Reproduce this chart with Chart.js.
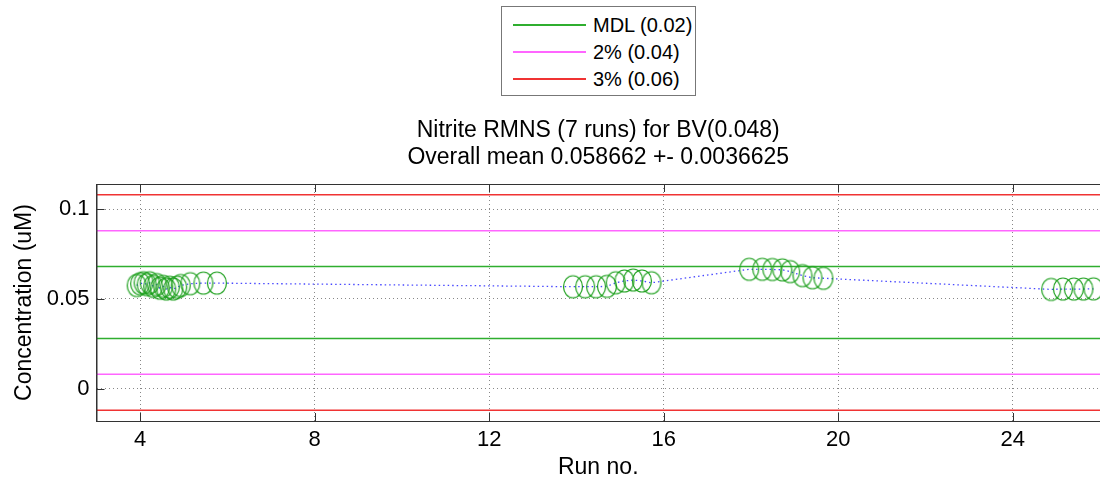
<!DOCTYPE html>
<html>
<head>
<meta charset="utf-8">
<script src="https://cdn.jsdelivr.net/npm/chart.js@4.4.0/dist/chart.umd.min.js"></script>
<style>
  body { margin: 0; background: #fff; font-family: 'Liberation Sans', Arial, sans-serif; }
  #wrap { position: relative; width: 1100px; height: 485px; }
  #legend { position: absolute; left: 501px; top: 6px; width: 195px; height: 90px;
            border: 1px solid #777; background: #fff; box-sizing: border-box; }
  .row { position: absolute; left: 0; height: 20px; font-size: 20px; line-height: 20px; color: #000; }
  .row span.ln { position: absolute; left: 11px; top: 9px; width: 73px; height: 0; border-top: 2px solid; }
  .row span.tx { position: absolute; left: 91px; top: 0; white-space: nowrap; }
</style>
</head>
<body>
<div id="wrap">
  <canvas id="chart" width="1100" height="485"></canvas>
  <div id="legend"></div>
</div>
<script>
  // run numbers and measured concentrations
  var runNo = [3.92, 4.0, 4.08, 4.15, 4.22, 4.3, 4.38, 4.45, 4.53, 4.6, 4.68, 4.76, 4.85, 4.93, 5.15, 5.45, 5.76,
               13.92, 14.2, 14.45, 14.7, 14.9, 15.1, 15.3, 15.5, 15.72,
               17.96, 18.26, 18.49, 18.72, 18.9, 19.18, 19.41, 19.66,
               24.88, 25.15, 25.4, 25.62, 25.85];
  var conc = [0.0575, 0.0585, 0.059, 0.058, 0.059, 0.057, 0.058, 0.056, 0.057, 0.0555, 0.0565, 0.0555, 0.0565, 0.0575, 0.0585, 0.0588, 0.0588,
              0.0568, 0.0568, 0.0568, 0.057, 0.059, 0.06, 0.0605, 0.06, 0.059,
              0.0665, 0.0665, 0.0664, 0.0662, 0.0652, 0.063, 0.0618, 0.0615,
              0.0553, 0.0555, 0.0555, 0.0555, 0.0556];

  var bv = 0.048;
  var limitOffsets = [0.02, 0.04, 0.06];
  var limitLabels = ['MDL (0.02)', '2% (0.04)', '3% (0.06)'];
  var limitColors = ['#2fae2f', '#ff66ff', '#f03333'];

  var titleLines = ['Nitrite RMNS (7 runs) for BV(0.048)', 'Overall mean 0.058662 +- 0.0036625'];
  var xTicks = [4, 8, 12, 16, 20, 24];
  var yTicks = [0, 0.05, 0.1];
  var xMin = 3, xMax = 26;
  var yMin = -0.018, yMax = 0.114;

  var font = "'Liberation Sans', Arial, sans-serif";

  // ellipse marker like the matlab 'o'
  var marker = document.createElement('canvas');
  marker.width = 24; marker.height = 26;
  (function () {
      var c = marker.getContext('2d');
      c.strokeStyle = '#1ea01e';
      c.lineWidth = 1.2;
      c.beginPath();
      c.ellipse(12, 13, 9.5, 11, 0, 0, Math.PI * 2);
      c.stroke();
  })();

  var datasets = [];
  limitOffsets.forEach(function (d, i) {
      [bv + d, bv - d].forEach(function (v) {
          datasets.push({
              data: [{x: xMin, y: v}, {x: xMax, y: v}],
              borderColor: limitColors[i],
              borderWidth: 1.5,
              pointRadius: 0,
              showLine: true,
              order: 2
          });
      });
  });
  datasets.push({
      data: runNo.map(function (x, i) { return {x: x, y: conc[i]}; }),
      showLine: true,
      borderColor: 'rgba(40,40,255,0.85)',
      borderWidth: 1.3,
      borderDash: [1.5, 3],
      pointStyle: marker,
      pointRadius: 10,
      order: 1
  });

  // axes box, inner tick marks, title centred over the plot area
  var frame = {
      id: 'frame',
      afterDraw: function (chart) {
          var a = chart.chartArea, c = chart.ctx;
          var sx = chart.scales.x, sy = chart.scales.y;
          c.save();
          c.strokeStyle = '#333';
          c.lineWidth = 1;
          c.strokeRect(a.left + 0.5, a.top + 0.5, a.right - a.left, a.bottom - a.top);
          c.beginPath();
          xTicks.forEach(function (v) {
              var px = Math.round(sx.getPixelForValue(v)) + 0.5;
              c.moveTo(px, a.bottom); c.lineTo(px, a.bottom - 8);
              c.moveTo(px, a.top); c.lineTo(px, a.top + 8);
          });
          yTicks.forEach(function (v) {
              var py = Math.round(sy.getPixelForValue(v)) + 0.5;
              c.moveTo(a.left, py); c.lineTo(a.left + 8, py);
          });
          c.stroke();
          c.fillStyle = '#000';
          c.font = '23px ' + font;
          c.textAlign = 'center';
          c.textBaseline = 'middle';
          var cx = (a.left + a.right) / 2;
          titleLines.forEach(function (t, i) { c.fillText(t, cx, 131 + i * 27); });
          c.restore();
      }
  };

  new Chart(document.getElementById('chart').getContext('2d'), {
      type: 'scatter',
      data: {datasets: datasets},
      plugins: [frame],
      options: {
          responsive: false,
          animation: false,
          layout: {autoPadding: false, padding: {left: 0, right: 0, top: 184, bottom: 0}},
          plugins: {
              legend: {display: false},
              tooltip: {enabled: false},
              title: {display: false}
          },
          scales: {
              x: {
                  type: 'linear', min: xMin, max: xMax,
                  afterBuildTicks: function (s) { s.ticks = xTicks.map(function (v) { return {value: v}; }); },
                  afterFit: function (s) { s.height = 64; },
                  ticks: {color: '#000', font: {family: font, size: 22}, padding: 6},
                  grid: {color: '#888', drawTicks: false},
                  border: {display: true, color: '#333', dash: [1, 3]},
                  title: {display: true, text: 'Run no.', color: '#000',
                          font: {family: font, size: 23}, padding: {top: 0, bottom: 4}}
              },
              y: {
                  type: 'linear', min: yMin, max: yMax,
                  afterBuildTicks: function (s) { s.ticks = yTicks.map(function (v) { return {value: v}; }); },
                  afterFit: function (s) { s.width = 96.5; },
                  ticks: {color: '#000', font: {family: font, size: 22}, padding: 7,
                          callback: function (v) { return String(v); }},
                  grid: {color: '#888', drawTicks: false},
                  border: {display: true, color: '#333', dash: [1, 3]},
                  title: {display: true, text: 'Concentration (uM)', color: '#000',
                          font: {family: font, size: 23}, padding: {top: 11, bottom: 0}}
              }
          }
      }
  });

  // legend box
  var leg = document.getElementById('legend');
  limitLabels.forEach(function (t, i) {
      var r = document.createElement('div');
      r.className = 'row';
      r.style.top = (8 + i * 27) + 'px';
      r.style.width = '100%';
      r.innerHTML = '<span class="ln" style="border-color:' + limitColors[i] + '"></span><span class="tx">' + t + '</span>';
      leg.appendChild(r);
  });
</script>
</body>
</html>
